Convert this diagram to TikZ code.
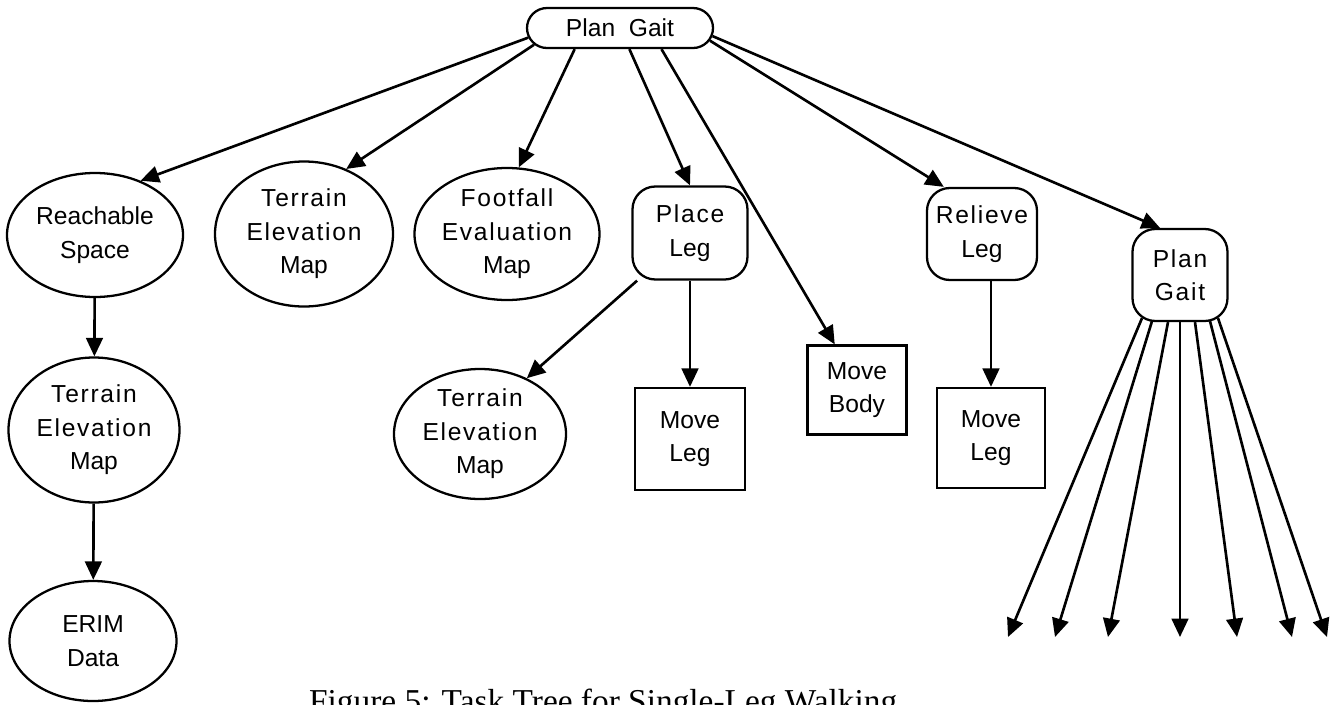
\documentclass[tikz,border=0pt]{standalone}
\usepackage{fontspec}
\setmainfont{Liberation Serif}
\setsansfont{Liberation Sans}
\newfontfamily\wide[LetterSpace=7]{Liberation Sans}
\usetikzlibrary{shapes.geometric,shapes.misc,arrows.meta}
\newcommand{\px}{0.02cm}

\begin{document}
\begin{tikzpicture}[x=\px, y=-\px,
    every node/.style={font=\sffamily\fontsize{14}{19}\selectfont, align=center, inner sep=0pt, line width=1.3pt},
    oval/.style={draw, ellipse},
    pill/.style={draw, rounded rectangle},
    task/.style={draw, rectangle, rounded corners=13pt},
    prim/.style={draw, rectangle},
    arr/.style={line width=1.5pt, -{Triangle[length=10.5pt,width=9.5pt]}}]
    \useasboundingbox (0,0) rectangle (1333,704);

    % Root
    \node[pill, minimum width=186*\px, minimum height=40*\px] (root) at (620,28) {Plan~~Gait};

    % First level
    \node[oval, minimum width=176*\px, minimum height=124*\px] (reach) at (95,235) {Reachable\\Space};
    \node[oval, minimum width=178*\px, minimum height=145*\px] (terrA) at (304,234) {{\wide Terrain}\\{\wide Elevation}\\Map};
    \node[oval, minimum width=185*\px, minimum height=132*\px] (foot) at (507,234) {{\wide Footfall}\\{\wide Evaluation}\\Map};
    \node[task, minimum width=115*\px, minimum height=93*\px] (place) at (690,233) {{\wide Place}\\Leg};
    \node[prim, minimum width=99*\px, minimum height=89*\px] (body) at (857,390) {Move\\Body};
    \node[task, minimum width=110*\px, minimum height=92*\px] (relieve) at (982,234) {{\wide Relieve}\\Leg};
    \node[task, minimum width=95*\px, minimum height=92*\px] (gait) at (1180,275) {{\wide Plan}\\{\wide Gait}};

    % Second level
    \node[oval, minimum width=171*\px, minimum height=145*\px] (terrB) at (94,430) {{\wide Terrain}\\{\wide Elevation}\\Map};
    \node[oval, minimum width=172*\px, minimum height=130*\px] (terrC) at (480,434) {{\wide Terrain}\\{\wide Elevation}\\Map};
    \node[prim, minimum width=110*\px, minimum height=102*\px] (moveA) at (690,439) {Move\\Leg};
    \node[prim, minimum width=108*\px, minimum height=100*\px] (moveB) at (991,438) {Move\\Leg};

    % Third level
    \node[oval, minimum width=167*\px, minimum height=120*\px] (erim) at (93,641) {ERIM\\Data};

    % Open ends below the lower Plan Gait
    \coordinate (leaf1) at (1008,637);
    \coordinate (leaf2) at (1055,637);
    \coordinate (leaf3) at (1108,637);
    \coordinate (leaf4) at (1180,637);
    \coordinate (leaf5) at (1237,637);
    \coordinate (leaf6) at (1292,637);
    \coordinate (leaf7) at (1327,637);

    % Connectors
    \draw[arr] (root.186) -- (reach.50);
    \draw[arr] (root.191) -- (terrA.57);
    \draw[arr] (root.205) -- (foot.80);
    \draw[arr] (root) -- (place.north);
    \draw[arr] (root.333) -- (body.116);
    \draw[arr] (root.352) -- (relieve.129);
    \draw[arr] (root.355) -- (gait.113);

    \draw[arr] (reach) -- (terrB);
    \draw[arr] (terrB) -- (erim);
    \draw[arr] (place.222) -- (terrC.50);
    \draw[arr] (moveA |- place.south) -- (moveA.north);
    \draw[arr] (moveB |- relieve.south) -- (moveB.north);

    \draw[arr] ([xshift=-38*\px, yshift=4*\px]gait.south) -- (leaf1);
    \draw[arr] ([xshift=-28*\px, yshift=1*\px]gait.south) -- (leaf2);
    \draw[arr] ([xshift=-12*\px]gait.south) -- (leaf3);
    \draw[arr] ([xshift=0*\px]gait.south) -- (leaf4);
    \draw[arr] ([xshift=15*\px]gait.south) -- (leaf5);
    \draw[arr] ([xshift=30*\px, yshift=1*\px]gait.south) -- (leaf6);
    \draw[arr] ([xshift=38*\px, yshift=4*\px]gait.south) -- (leaf7);

    % Caption, cut by the lower edge
    \node[font=\rmfamily\fontsize{19}{23}\selectfont, anchor=base west] (caption) at (308,712) {Figure 5: Task Tree for Single-Leg Walking};
\end{tikzpicture}
\end{document}
